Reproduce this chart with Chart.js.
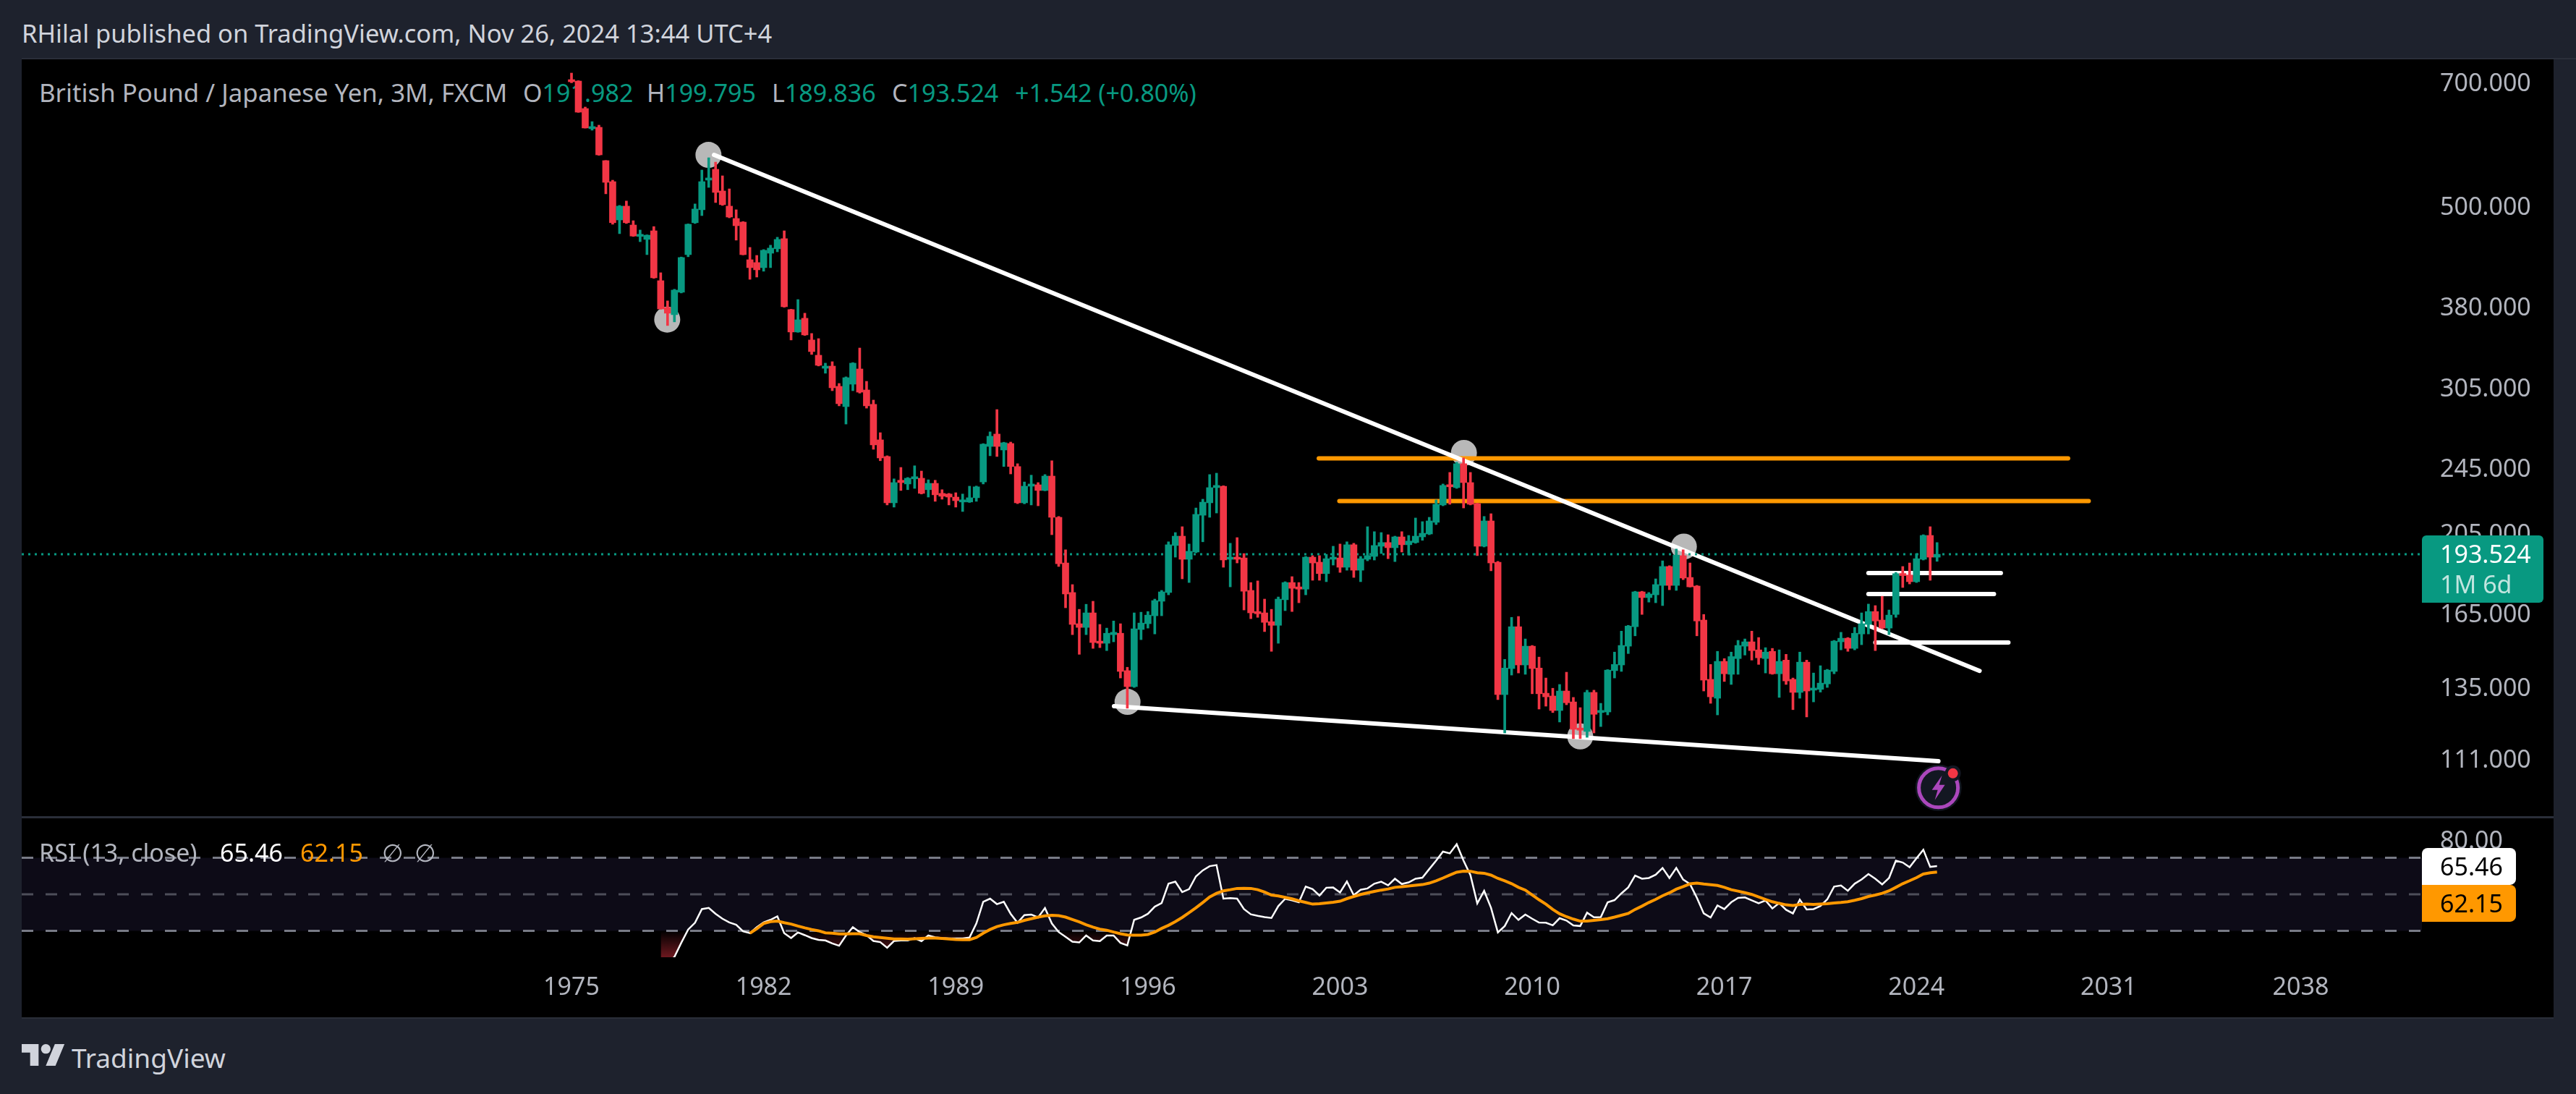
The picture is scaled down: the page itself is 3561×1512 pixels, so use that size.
<!DOCTYPE html>
<html>
<head>
<meta charset="utf-8">
<script src="https://cdn.jsdelivr.net/npm/chart.js@4"></script>
<style>
  html, body { margin: 0; padding: 0; background: #1e222d; }
  body { width: 3561px; height: 1512px; position: relative; overflow: hidden; font-family: "Noto Sans", sans-serif; }
  .box { position: absolute; }
  canvas { position: absolute; }
  .t { position: absolute; white-space: pre; font-size: 34px; line-height: 40px; color: #b2b5be; }
  .g { color: #089981; }
</style>
</head>
<body>
<div class="box" style="left:30px;top:82px;width:3500px;height:1324px;background:#000"></div>
<div class="box" style="left:30px;top:80px;width:3531px;height:2px;background:#2a2e39"></div>
<div class="box" style="left:30px;top:1128px;width:3500px;height:3px;background:#2a2e39"></div>
<div class="box" style="left:30px;top:1406px;width:3500px;height:2px;background:#2a2e39"></div>

<div class="t" style="left:30px;top:26px;font-size:34.5px;color:#d1d4dc">RHilal published on TradingView.com, Nov 26, 2024 13:44 UTC+4</div>

<div class="t" style="left:54px;top:108px;font-size:34.8px">British Pound / Japanese Yen, 3M, FXCM</div>
<div class="t" style="left:723px;top:108px">O<span class="g">191.982</span></div>
<div class="t" style="left:894px;top:108px">H<span class="g">199.795</span></div>
<div class="t" style="left:1067px;top:108px">L<span class="g">189.836</span></div>
<div class="t" style="left:1233px;top:108px">C<span class="g">193.524</span></div>
<div class="t g" style="left:1403px;top:108px">+1.542 (+0.80%)</div>

<svg style="position:absolute;left:30px;top:1443px" width="60" height="30" viewBox="0 4 36 18">
  <path fill="#d1d4dc" d="M14 22H7V11H0V4h14v18zM28 22h-8l7.5-18h8L28 22z"/><circle fill="#d1d4dc" cx="20" cy="8" r="4"/>
</svg>
<div class="t" style="left:99px;top:1439px;font-size:37px;line-height:46px;color:#d1d4dc">TradingView</div>

<canvas id="main" width="3500" height="1046" style="left:30px;top:82px"></canvas>
<canvas id="rsi" width="3500" height="275" style="left:30px;top:1131px"></canvas>

<div class="t" style="left:54px;top:1158px">RSI (13, close)</div>
<div class="t" style="left:304px;top:1158px;color:#fff">65.46</div>
<div class="t" style="left:415px;top:1158px;color:#ff9800">62.15</div>
<div class="t" style="left:528px;top:1158px">∅</div>
<div class="t" style="left:573px;top:1158px">∅</div>

<script>
// quarterly candles, 1975 Q1 to 2024 Q4, index 0 = 1975 Q1
var opens = [
702.7,701.3,650.8,616,618.4,564.8,533.4,480.6,499,474,
459.5,455.8,466.6,407.4,378.8,371.4,394.8,437.3,477,494.1,
535.6,551.6,520,499,482.5,477.8,431.3,428,422.1,439,
444.3,456.7,376.6,354.3,367.8,346.7,332.6,321,322.9,305.6,
289.2,307.4,320.4,302.6,291,264.2,252.5,222.6,236.7,234.3,
237.6,238,230.7,234.7,228.4,228,226.1,223.1,223.1,225.7,
235.6,259.5,268.4,257,261.6,245.7,222.6,232.9,233.8,230.2,
239.4,214,189,174.4,160.2,158.6,165,152.8,151.9,155.5,
156.1,141,135,157.7,160.2,163.7,170.3,174.4,198.2,203.3,
190.9,194.7,215.2,222.6,232,232.9,190.9,192,191.6,175.4,
165.6,165,161.1,159.5,171,179.2,177.1,176,192,189.4,
183.6,190.9,191.6,186.8,198.6,185.3,190.9,192.4,197.8,199.8,
197,202.9,198.6,199.8,202.9,204.5,211.1,221.3,233.8,232,
247.6,235.2,222.1,197.8,211.9,189.4,132.1,141.8,158.9,143.2,
150.7,142,132.6,131.6,126.5,133.4,129.5,120.6,119.5,132.9,
125.8,126,141,143.2,150.7,158.9,174.7,172,173.3,177.8,
187.2,177.8,192.8,181.7,177.5,161.8,137.7,130.8,144.6,139.6,
145.7,150.7,152.5,149.2,145.7,148.6,139.8,145.1,137.7,132.9,
144.3,133.7,134,136,140.7,152.5,154,149.8,155.8,159.9,
165.6,161.8,158.3,164.3,183.6,182.9,179.6,190.9,203.7,191.982];

var closes = [
699.9,644.4,617.2,619.6,573.7,532.4,477,499,477,460,
462,461.1,410.6,377.2,372.9,397.1,433.9,475,495.1,533.4,
538.8,518,501,484.4,473.1,437.3,422.1,419.6,442.5,445.2,
455.8,379.5,354.3,366.3,351.5,335.9,323.6,322.9,304.4,291.5,
312.9,325.5,300.8,289.8,260.6,251.5,222.6,235.2,235.2,238,
239,228.4,234.7,227.5,226.6,226.1,223.9,224.4,225.7,232.5,
261.1,266.8,259.5,262.1,245.7,222.6,232.9,234.3,230.2,239.4,
214,188.6,173.7,159.9,158.6,165,152.2,151.9,156.1,156.5,
140.7,135,158,160.5,164,170.6,174.7,198.6,203.3,190.9,
195.1,215.7,223,232,233.4,190.5,192,190.9,175,165,
164.6,160.8,159.5,171.3,179.2,176.4,176,192,189,183.6,
191.2,192,186.8,198.6,185.3,191.2,192.8,198.2,199.8,197,
202.9,198.6,200.6,203.3,204.9,211.9,221.7,233.4,232.5,247.6,
235.2,221.7,197.8,211.9,189,132.1,142,158.9,143.2,150.7,
141.8,132.4,131.3,126.5,133.4,129.2,120.2,119.9,132.9,125.2,
126.5,141.2,143.4,151,159.2,174.7,172,173.7,178.2,187.2,
177.8,193.1,181.4,177.1,161.4,137.4,131.3,144.6,139.8,146.5,
151,152.5,148.9,146,148.3,139.8,144.6,137.1,132.9,144.3,
133.4,134.4,136.3,141.2,152.8,154,149.8,156.1,160.2,165.6,
161.4,158.3,164,183.6,182.6,179.6,191.2,203.7,192,193.524];

var highs = [
716.7,702,653.4,628,622,565,535.5,500,506,479.6,
467.6,461.5,472,416.3,385.6,398,434.5,475.5,502,550.5,
569.2,562.5,541.9,523,494.1,478.5,446,436.4,443.4,448.7,
458.5,466.6,377,387,372.9,352.9,348,325.5,326.8,308,
313.6,326,339.2,309.8,294.4,269.4,253,237.6,245.1,238.5,
246.2,242.7,237,236.7,230.7,228.4,228.8,228,232.9,233,
261.5,270,286.9,262.5,262.6,247.6,235.6,240,235.2,240.4,
249.6,214.5,195.9,178.2,166.6,168.9,170.3,159.9,158.3,161.4,
160.2,142.3,165,165.3,165.6,171.3,175.4,200.2,205.3,208.6,
199,219.5,224.8,240.4,241.3,233.2,199.4,202.5,193.9,179.2,
180,171.3,166.6,172.3,179.6,182.1,179.2,192.4,192.8,192.8,
193.5,197.8,199,200.2,199.4,192.4,208.6,205.8,205.3,204.1,
203.3,205.8,203.7,213.6,211.5,214,224.4,234.3,241.8,248.6,
251.5,241.8,222.4,214.5,216.1,189.8,145.4,163,163.4,153.7,
151,146.3,138.2,134.4,135.8,140.4,131.1,127.5,133.7,133.7,
129,141.4,148.3,157,159.5,175,175,174.4,181,190.1,
187.6,196.3,195.9,189,177.8,164.3,143.4,148.6,145.7,148.3,
153.1,153.7,157,154.3,150.1,149.8,149.2,147.4,138.2,148.3,
145.1,140.1,142.9,141.5,153.1,156.5,154.3,158.6,165,169,
168.3,172.6,166.3,184.2,187.2,189,193.9,204.1,208.6,199.795];

var lows = [
698,644,617,613.5,573,516,475,463,476,459.5,
453,437.3,410,377,360.6,364.2,394,434.8,476,486.3,
525.1,503.9,500,483.4,454.9,437,408.9,411.4,418,422.1,
440.7,379,346.7,354,351,333.3,323,316.7,302,289.8,
275.8,302,300,288,257.5,249.6,221.3,220,230.2,230.7,
231.5,228,226.1,223.5,224.8,221.3,220,217.4,222.8,223.5,
234.3,253,252.5,245.7,240.8,222.1,222,221.3,220.8,230,
204.1,187.2,167.3,155.5,147.4,155.5,149.8,150.1,148.9,152.5,
138.2,127.3,134.7,153.4,158.3,155.8,163.7,173.3,192,181,
179.2,194.3,200.2,214,216.5,186.8,177.1,189,166.3,162.4,
163,156.8,148.6,151.9,166,165.6,169.6,173.3,180.3,180.3,
179.6,187.9,184.2,185.3,181.7,179.6,190.1,190.5,193.9,191.2,
189.7,194.7,193.1,199.4,201,204.1,209.8,220.8,221.7,231.5,
219.5,221.3,192.8,197.4,185,130.3,119,139.3,140.1,139.6,
132.4,127,128,125.8,122.6,128.5,117.2,117.2,117.6,119,
121.1,125,138.2,140.7,147.7,155,164.3,169.9,169.6,168.3,
175.7,175.4,180.6,177,155,133.4,129,125,136.9,135.8,
139.6,147.1,145.1,143.4,140.1,139.6,131.1,135.8,126.8,130.8,
124.3,129.5,133,134.7,139.8,149.2,148.6,149.2,151.3,155.8,
148.9,158,155.5,163,176.8,178.5,179.2,190.5,180.3,189.836];

// RSI starts at candle 13, its average at candle 26
var rsiStart = 13;
var rsiValues = [
8,12,15.7,23.4,30.7,34.4,41.9,42.5,39.3,
36.6,34.6,33.3,29.7,28.7,32,34.6,36,37.9,
28.7,26,29.1,27.6,26,25,24.7,23.1,21.8,27.4,
32,29.3,27.6,24.4,23.8,20.7,24.4,24.7,24.7,26,
24.3,27.4,26.4,26,25.8,25.8,25.8,26.3,34,45.9,
47.6,44.6,45.9,39.3,34.4,38.6,38.9,37.3,42.5,34,
29.3,26.7,24,23.6,27.4,24.7,24.3,27.4,27.4,23.4,
22,36,37.3,39.3,43.2,45.2,55.8,56.9,51.2,52.8,
59.8,63.1,65.4,66,47.6,47.9,47.6,41.9,39,38.2,
37.5,37,43.5,47.5,46.7,45.6,54.2,52.8,49.3,53.6,
53.7,51,57,49.5,52.5,53.2,55.8,56.9,54.9,58.5,
55.6,56.5,58.5,59.1,63.8,68.4,73.4,72.4,77.4,68.4,
60.5,45,51.9,42.6,29.1,32.6,39.7,36,38.9,36.6,
34.5,34.4,33,36.9,35.6,32.9,32.6,39.9,37.4,37.5,
45.6,46.8,50.5,53.8,60.2,58.5,58.9,60.7,64.4,58.9,
64.4,58.1,55.6,48.1,39.5,37.3,43.9,41.9,45.6,48,
48.3,46.7,45.1,46.6,42.2,45.2,41.5,39.5,47,41.7,
41.9,43.6,47.2,54.2,54.8,51.9,55.8,58.1,61.1,58.5,
55.4,58.9,68.4,67.4,64.8,69.7,74.4,65,65.46];

var maStart = 26;
var maValues = [
28.7,31.1,34,35,35.3,34.4,33.7,32.6,31.6,30.7,
30,28.9,28.7,28.3,28.3,28.4,28.4,27.4,26.7,26.3,
25.9,25.5,25.5,25.4,25.6,25.8,26,26,25.8,25.5,
25.2,25.1,25.1,26.3,28.7,30.7,32.3,33.3,34,34.6,
35.7,36.6,37.5,38.2,38.5,38.3,37.5,36.2,34.9,33.3,
32,30.9,30.3,29.3,28.4,27.7,27.6,27.6,28,29.3,
31.3,33,35,37.3,39.9,42.6,45.5,48.5,50.5,51.9,
52.5,53.2,53.3,53.2,52.5,51.2,
49.6,49.1,48.3,47.5,46.4,45.5,44.6,44.8,45.2,45.6,
46.2,47.6,48.8,49.9,50.8,51.6,52.3,52.9,53.8,54.1,
54.5,54.9,55.3,56.1,57.4,58.9,60.5,62.1,62.7,62.6,
61.8,61.5,60.5,58.7,57.4,55.8,53.8,52.3,49.6,47,
44.6,41.7,39.3,37.7,36.4,35.3,35.3,35.7,36.1,36.6,
37.5,38.5,39.5,41.7,43.5,45.5,47.2,49.2,50.8,52.8,
54.2,55.7,56.1,55.6,55.2,54.8,53.8,52.5,51.7,50.9,
49.9,48.5,47.2,45.9,45,44.2,43.8,44.4,44.6,44.4,
44.6,44.8,45.2,45.5,45.9,46.7,47.6,48.8,49.6,50.5,
51.9,53.8,55.8,57.4,59.1,61.1,61.8,62.15];

// tick labels
var priceTicks = [700, 500, 380, 305, 245, 205, 165, 135, 111];
var rsiTicks = [80, 60, 40];
var yearTicks = [1975, 1982, 1989, 1996, 2003, 2010, 2017, 2024, 2031, 2038];

// hand drawn lines: [candle index, price]
var upperTrend = [[20.77, 573.7], [205.2, 140.9]];
var lowerTrend = [[79.06, 128], [199.2, 110.2]];
var orangeHigh = [[108.9, 251.2], [218.1, 251.2]];
var orangeLow = [[111.9, 223.7], [221.1, 223.7]];
var whiteLevel1 = [[189, 183.9], [208.3, 183.9]];
var whiteLevel2 = [[189, 173.7], [207.3, 173.7]];
var whiteLevel3 = [[190, 152.2], [209.4, 152.2]];
var pivots = [[19.96, 573.7], [13.95, 366.5], [81.03, 129.5], [130.05, 255], [162.1, 197.6], [147, 117.9]];
var iconPoint = [199.2, 102.5];

var GREEN = '#089981', RED = '#f23645', ORANGE = '#ff9800';
var AXIS_FONT = { family: '"Noto Sans", sans-serif', size: 34 };
var xMin = -80.12, xMax = 269.66;

function toXY(list) {
  return list.map(function (p) { return { x: p[0], y: p[1] }; });
}
function seriesFrom(start, values) {
  return values.map(function (v, i) { return { x: start + i, y: v }; });
}
function drawing(list, color) {
  return { type: 'line', data: toXY(list), borderColor: color, borderWidth: 6, borderCapStyle: 'round',
           pointRadius: 0, fill: false, order: 5 };
}

var candleColors = closes.map(function (c, i) { return c >= opens[i] ? GREEN : RED; });
var lastClose = closes[closes.length - 1];

// price tag + the little bolt icon
var mainExtras = {
  id: 'mainExtras',
  afterDraw: function (chart) {
    var c = chart.ctx, sy = chart.scales.y, sx = chart.scales.x;
    var py = sy.getPixelForValue(lastClose);
    c.save();
    c.fillStyle = GREEN;
    c.beginPath();
    c.roundRect(sx.right, py - 26, 168, 93, [6, 6, 6, 0]);
    c.fill();
    c.font = '34px "Noto Sans", sans-serif';
    c.textBaseline = 'middle';
    c.fillStyle = '#fff';
    c.fillText(lastClose.toFixed(3), sx.right + 25, py + 2);
    c.fillStyle = 'rgba(255,255,255,0.75)';
    c.fillText('1M 6d', sx.right + 25, py + 44);

    var ix = sx.getPixelForValue(iconPoint[0]), iy = sy.getPixelForValue(iconPoint[1]);
    c.fillStyle = '#131722';
    c.beginPath(); c.arc(ix, iy, 32, 0, Math.PI * 2); c.fill();
    c.strokeStyle = '#ab47bc'; c.lineWidth = 5;
    c.beginPath(); c.arc(ix, iy, 27, 0, Math.PI * 2); c.stroke();
    c.fillStyle = '#ab47bc';
    c.beginPath();
    c.moveTo(ix + 5, iy - 17); c.lineTo(ix - 9, iy + 3); c.lineTo(ix - 1, iy + 3);
    c.lineTo(ix - 5, iy + 17); c.lineTo(ix + 9, iy - 4); c.lineTo(ix + 1, iy - 4);
    c.closePath(); c.fill();
    c.fillStyle = '#131722';
    c.beginPath(); c.arc(ix + 20, iy - 20, 11, 0, Math.PI * 2); c.fill();
    c.fillStyle = RED;
    c.beginPath(); c.arc(ix + 20, iy - 20, 7, 0, Math.PI * 2); c.fill();
    c.restore();
  }
};

new Chart(document.getElementById('main'), {
  type: 'bar',
  plugins: [mainExtras],
  data: {
    datasets: [
      { type: 'bar', data: opens.map(function (o, i) { return { x: i, y: [o, closes[i]] }; }),
        backgroundColor: candleColors, barThickness: 9, minBarLength: 3, grouped: false, order: 1 },
      { type: 'bar', data: lows.map(function (l, i) { return { x: i, y: [l, highs[i]] }; }),
        backgroundColor: candleColors, barThickness: 3, grouped: false, order: 2 },
      { type: 'line', data: [{ x: xMin, y: lastClose }, { x: xMax, y: lastClose }], borderColor: GREEN,
        borderWidth: 3, borderDash: [3, 6], pointRadius: 0, fill: false, order: 3 },
      drawing(upperTrend, '#ffffff'),
      drawing(lowerTrend, '#ffffff'),
      drawing(whiteLevel1, '#ffffff'),
      drawing(whiteLevel2, '#ffffff'),
      drawing(whiteLevel3, '#ffffff'),
      drawing(orangeHigh, ORANGE),
      drawing(orangeLow, ORANGE),
      { type: 'line', data: toXY(pivots), showLine: false, pointRadius: 18, pointBorderWidth: 0,
        pointBackgroundColor: 'rgba(204,204,204,0.9)', order: 6 }
    ]
  },
  options: {
    responsive: false,
    devicePixelRatio: 1,
    animation: false,
    events: [],
    layout: { padding: 0, autoPadding: false },
    plugins: { legend: { display: false }, tooltip: { enabled: false } },
    scales: {
      x: { type: 'linear', display: false, offset: false, min: xMin, max: xMax },
      y: {
        type: 'logarithmic', position: 'right', min: 94.9, max: 744,
        grid: { display: false, drawTicks: false }, border: { display: false },
        afterBuildTicks: function (s) { s.ticks = priceTicks.map(function (v) { return { value: v }; }); },
        afterFit: function (s) { s.width = 182; s.paddingTop = 0; s.paddingBottom = 0; },
        ticks: { color: '#b2b5be', font: AXIS_FONT, padding: 25, labelOffset: 3, autoSkip: false,
                 callback: function (v) { return Number(v).toFixed(3); } }
      }
    }
  }
});

// value tags on the RSI axis
var rsiExtras = {
  id: 'rsiExtras',
  afterDraw: function (chart) {
    var c = chart.ctx, sy = chart.scales.y, sx = chart.scales.x;
    var lastRsi = rsiValues[rsiValues.length - 1], lastMa = maValues[maValues.length - 1];
    var top1 = sy.getPixelForValue(lastRsi) - 25;
    c.save();
    c.font = '34px "Noto Sans", sans-serif';
    c.textBaseline = 'middle';
    c.fillStyle = '#fff';
    c.beginPath(); c.roundRect(sx.right, top1, 130, 51, [8, 8, 8, 0]); c.fill();
    c.fillStyle = ORANGE;
    c.beginPath(); c.roundRect(sx.right, top1 + 51, 130, 51, [0, 8, 8, 0]); c.fill();
    c.fillStyle = '#000';
    c.fillText(lastRsi.toFixed(2), sx.right + 25, top1 + 28);
    c.fillText(lastMa.toFixed(2), sx.right + 25, top1 + 79);
    c.restore();
  }
};

var rsiChart = new Chart(document.getElementById('rsi'), {
  type: 'line',
  plugins: [rsiExtras],
  data: {
    datasets: [
      { data: [{ x: xMin, y: 70 }, { x: xMax, y: 70 }], borderColor: '#787b86', borderWidth: 3, borderDash: [16, 17],
        pointRadius: 0, fill: { target: { value: 30 }, above: '#0d0b17', below: '#0d0b17' }, order: 6 },
      { data: [{ x: xMin, y: 50 }, { x: xMax, y: 50 }], borderColor: 'rgba(120,123,134,0.6)', borderWidth: 3,
        borderDash: [16, 17], pointRadius: 0, fill: false, order: 5 },
      { data: [{ x: xMin, y: 30 }, { x: xMax, y: 30 }], borderColor: '#787b86', borderWidth: 3, borderDash: [16, 17],
        pointRadius: 0, fill: false, order: 4 },
      { data: seriesFrom(rsiStart, rsiValues), borderColor: '#ffffff', borderWidth: 2.5, pointRadius: 0,
        fill: { target: { value: 30 }, above: 'rgba(0,0,0,0)', below: 'rgba(0,0,0,0)' }, order: 2 },
      { data: seriesFrom(maStart, maValues), borderColor: ORANGE, borderWidth: 4, pointRadius: 0, fill: false, order: 1 }
    ]
  },
  options: {
    responsive: false,
    devicePixelRatio: 1,
    animation: false,
    events: [],
    layout: { padding: 0, autoPadding: false },
    plugins: { legend: { display: false }, tooltip: { enabled: false } },
    scales: {
      x: {
        type: 'linear', position: 'bottom', min: xMin, max: xMax, offset: false,
        grid: { display: false, drawTicks: false }, border: { display: false },
        afterBuildTicks: function (s) { s.ticks = yearTicks.map(function (y) { return { value: (y - 1975) * 4 }; }); },
        afterFit: function (s) { s.height = 83; s.paddingLeft = 0; s.paddingRight = 0; },
        ticks: { color: '#b2b5be', font: AXIS_FONT, padding: 22, autoSkip: false, maxRotation: 0,
                 callback: function (v) { return String(1975 + v / 4); } }
      },
      y: {
        type: 'linear', position: 'right', min: 15.5, max: 91.6,
        grid: { display: false, drawTicks: false }, border: { display: false },
        afterBuildTicks: function (s) { s.ticks = rsiTicks.map(function (v) { return { value: v }; }); },
        afterFit: function (s) { s.width = 182; s.paddingTop = 0; s.paddingBottom = 0; },
        ticks: { color: '#b2b5be', font: AXIS_FONT, padding: 25, labelOffset: 3, autoSkip: false,
                 callback: function (v) { return Number(v).toFixed(2); } }
      }
    }
  }
});

// red wash under the 30 level
var area = rsiChart.chartArea;
var wash = rsiChart.ctx.createLinearGradient(0, rsiChart.scales.y.getPixelForValue(30), 0, area.bottom);
wash.addColorStop(0, 'rgba(242,54,69,0)');
wash.addColorStop(1, 'rgba(242,54,69,0.45)');
rsiChart.data.datasets[3].fill.below = wash;
rsiChart.update('none');
</script>
</body>
</html>
